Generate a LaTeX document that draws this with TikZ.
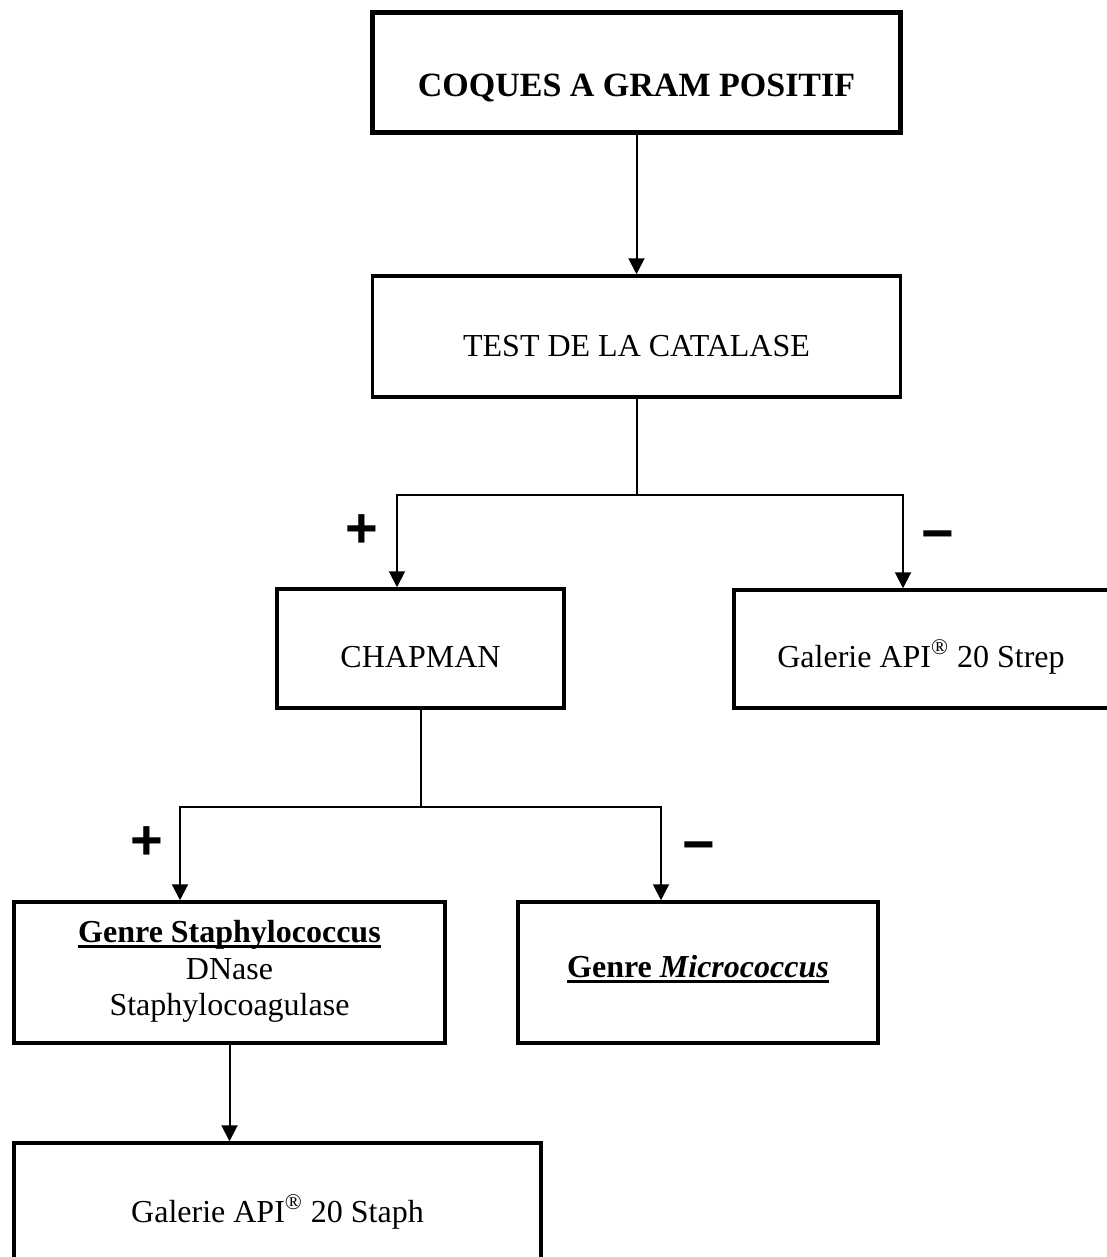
\documentclass[tikz,border=0pt]{standalone}
\usepackage{fontspec}
\setmainfont{Liberation Serif}
\newfontfamily\signfont{Liberation Sans}
\usetikzlibrary{arrows.meta,calc}
\newcommand\myul[1]{\setbox0\hbox{#1}\rlap{\rule[-3.2pt]{\wd0}{1.5pt}}\box0}
\tikzset{
  boxline/.style={draw=black,line width=1.75pt,inner sep=0pt,fill=none},
  thickbox/.style={draw=black,line width=2.6pt,inner sep=0pt},
  conn/.style={line width=1pt,draw=black},
  arr/.style={conn,-{Triangle[length=8pt,width=8pt]}},
  txt/.style={anchor=base,inner sep=0pt,font=\fontsize{16}{18.5}\selectfont},
  bigtxt/.style={anchor=base,inner sep=0pt,font=\fontsize{17}{18.5}\selectfont\bfseries},
  sign/.style={inner sep=0pt,font=\signfont\bfseries\fontsize{28}{30}\selectfont}
}
\begin{document}
\begin{tikzpicture}[x=0.5pt,y=-0.5pt]
\useasboundingbox (0,0) rectangle (1107,1257);
\clip (0,0) rectangle (1107,1257);
% boxes
\node[thickbox,minimum width=264pt,minimum height=60pt] (top) at (636.5,72.5) {};
\node[boxline,minimum width=264pt,minimum height=60.5pt] (cat) at (636.5,336.5) {};
\node[boxline,minimum width=143.5pt,minimum height=59.5pt] (chap) at (420.5,648.5) {};
\node[boxline,minimum width=189pt,minimum height=59pt] (strep) at (923,649) {};
\node[boxline,minimum width=215.5pt,minimum height=70.5pt] (staph) at (229.5,972.5) {};
\node[boxline,minimum width=180pt,minimum height=70.5pt] (micro) at (698,972.5) {};
\node[boxline,minimum width=263.5pt,minimum height=63.5pt] (api) at (277.5,1206.5) {};
% texts
\node[bigtxt] (ttop) at (636.5,97) {COQUES A GRAM POSITIF};
\node[txt] (tcat) at (636.5,356) {TEST DE LA CATALASE};
\node[txt] (tchap) at (420.5,667) {CHAPMAN};
\node[txt] (tstrep) at (921,667) {Galerie API\textsuperscript{®} 20 Strep};
\node[txt] (tst1) at (229.5,942) {\bfseries\myul{Genre Staphylococcus}};
\node[txt] (tst2) at (229.5,979) {DNase};
\node[txt] (tst3) at (229.5,1015) {Staphylocoagulase};
\node[txt] (tmic) at (698,977) {\bfseries\myul{Genre \itshape Micrococcus}};
\node[txt] (tapi) at (277.5,1222) {Galerie API\textsuperscript{®} 20 Staph};
% signs
\node[sign] (p1) at (362,531) {+};
\node[sign] (m1) at (938,542) {−};
\node[sign] (p2) at (147,843) {+};
\node[sign] (m2) at (699,853) {−};
% connectors
\draw[arr] (top.south) -- (cat.north);
\coordinate (j1) at ($(cat.south)+(0,96)$);
\coordinate (a1) at ($(chap.north)+(-23.5,0)$);
\coordinate (a2) at ($(strep.north)+(-20,0)$);
\draw[conn] (cat.south) -- (j1);
\draw[arr] (j1) -| (a1);
\draw[arr] (j1) -| (a2);
\coordinate (j2) at ($(chap.south)+(0,97)$);
\coordinate (b1) at ($(staph.north)+(-49.5,0)$);
\coordinate (b2) at ($(micro.north)+(-37,0)$);
\draw[conn] (chap.south) -- (j2);
\draw[arr] (j2) -| (b1);
\draw[arr] (j2) -| (b2);
\draw[arr] (staph.south) -- (staph.south |- api.north);
\end{tikzpicture}
\end{document}
